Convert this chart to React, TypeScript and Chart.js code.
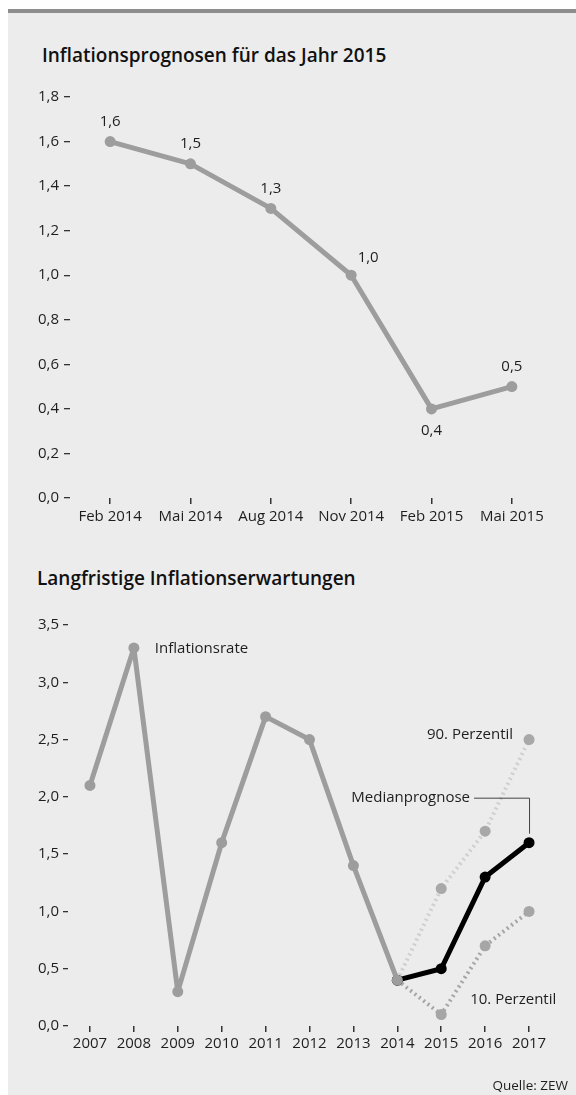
import React, { useEffect, useRef } from "react";
import { Chart, registerables } from "chart.js";

Chart.register(...registerables);

// ---------- data ----------
const forecastDates = ["Feb 2014", "Mai 2014", "Aug 2014", "Nov 2014", "Feb 2015", "Mai 2015"];
const forecastValues = [1.6, 1.5, 1.3, 1.0, 0.4, 0.5];
const forecastLabelPlace = ["above", "above", "above", "aboveRight", "below", "above"];

const years = ["2007", "2008", "2009", "2010", "2011", "2012", "2013", "2014", "2015", "2016", "2017"];
const inflationRate = [2.1, 3.3, 0.3, 1.6, 2.7, 2.5, 1.4, 0.4, null, null, null];
const medianForecast = [null, null, null, null, null, null, null, 0.4, 0.5, 1.3, 1.6];
const percentile90 = [null, null, null, null, null, null, null, 0.4, 1.2, 1.7, 2.5];
const percentile10 = [null, null, null, null, null, null, null, 0.4, 0.1, 0.7, 1.0];

const title1 = "Inflationsprognosen für das Jahr 2015";
const title2 = "Langfristige Inflationserwartungen";
const source = "Quelle: ZEW";

// ---------- styles ----------
const FONT = '"Open Sans", "Noto Sans", sans-serif';
const GRAY = "#9d9d9d";
const TEXT = "#1e1e1e";
const TICK_SIZE = 15;
const fmt = (v: number) => v.toFixed(1).replace(".", ",");

const topLabelPlugin = {
  id: "topLabels",
  afterDatasetsDraw(chart: any) {
    const meta = chart.getDatasetMeta(0);
    const ctx = chart.ctx;
    ctx.save();
    ctx.font = `${TICK_SIZE}px ${FONT}`;
    ctx.fillStyle = TEXT;
    ctx.textAlign = "center";
    ctx.textBaseline = "middle";
    meta.data.forEach((pt: any, i: number) => {
      const place = forecastLabelPlace[i];
      let dx = 0;
      let dy = -20;
      if (place === "below") dy = 22;
      if (place === "aboveRight") {
        dx = 17;
        dy = -17;
      }
      ctx.fillText(fmt(forecastValues[i]), pt.x + dx, pt.y + dy);
    });
    ctx.restore();
  },
};

const bottomLabelPlugin = {
  id: "bottomLabels",
  afterDatasetsDraw(chart: any) {
    const ctx = chart.ctx;
    const inf = chart.getDatasetMeta(0).data;
    const med = chart.getDatasetMeta(1).data;
    const p90 = chart.getDatasetMeta(2).data;
    const xs = chart.scales.x;
    const ys = chart.scales.y;
    ctx.save();
    ctx.font = `${TICK_SIZE}px ${FONT}`;
    ctx.fillStyle = TEXT;
    ctx.textBaseline = "middle";
    ctx.textAlign = "left";
    ctx.fillText("Inflationsrate", inf[1].x + 21, inf[1].y + 1);
    const last90 = p90[p90.length - 1];
    ctx.textAlign = "right";
    ctx.fillText("90. Perzentil", last90.x - 16, last90.y - 5);
    const lastMed = med[med.length - 1];
    const ly = lastMed.y - 45;
    ctx.fillText("Medianprognose", lastMed.x - 59, ly);
    ctx.strokeStyle = "#444";
    ctx.lineWidth = 1;
    ctx.beginPath();
    ctx.moveTo(lastMed.x - 55, ly + 0.5);
    ctx.lineTo(lastMed.x + 0.5, ly + 0.5);
    ctx.lineTo(lastMed.x + 0.5, lastMed.y - 9);
    ctx.stroke();
    ctx.textAlign = "left";
    ctx.fillText("10. Perzentil", xs.getPixelForValue(9) - 15, ys.getPixelForValue(0.23));
    ctx.restore();
  },
};

function tickFmt(v: any) {
  return fmt(Number(v));
}

function TopChart() {
  const ref = useRef<HTMLCanvasElement>(null);
  useEffect(() => {
    const chart = new Chart(ref.current as HTMLCanvasElement, {
      type: "line",
      data: {
        labels: forecastDates,
        datasets: [
          {
            data: forecastValues,
            borderColor: GRAY,
            backgroundColor: GRAY,
            borderWidth: 5,
            borderJoinStyle: "round",
            pointRadius: 5.5,
            pointBorderWidth: 0,
            pointBackgroundColor: GRAY,
            tension: 0,
          },
        ],
      },
      options: {
        animation: false,
        responsive: false,
        maintainAspectRatio: false,
        layout: { padding: { left: 0, right: 24, top: 27, bottom: 0 } },
        plugins: { legend: { display: false }, tooltip: { enabled: false } },
        scales: {
          x: {
            offset: true,
            border: { display: false },
            grid: { display: true, drawOnChartArea: false, drawTicks: true, tickLength: 6, tickColor: "#333", lineWidth: 1.5, offset: false },
            ticks: { font: { family: FONT, size: TICK_SIZE }, color: TEXT, padding: 4, maxRotation: 0, autoSkip: false },
            afterFit: (s: any) => {
              s.height = 52;
            },
          },
          y: {
            min: 0,
            max: 1.8,
            border: { display: false },
            grid: { display: true, drawOnChartArea: false, drawTicks: true, tickLength: 6, tickColor: "#333", lineWidth: 1.3 },
            ticks: { stepSize: 0.2, font: { family: FONT, size: TICK_SIZE }, color: TEXT, padding: 5, callback: tickFmt },
            afterFit: (s: any) => {
              s.width = 62;
            },
          },
        },
      },
      plugins: [topLabelPlugin],
    });
    return () => chart.destroy();
  }, []);
  return <canvas ref={ref} width={568} height={480} style={{ position: "absolute", left: 0, top: 62, width: 568, height: 480 }} />;
}

function BottomChart() {
  const ref = useRef<HTMLCanvasElement>(null);
  useEffect(() => {
    const chart = new Chart(ref.current as HTMLCanvasElement, {
      type: "line",
      data: {
        labels: years,
        datasets: [
          {
            data: inflationRate,
            borderColor: GRAY,
            borderWidth: 5,
            borderJoinStyle: "round",
            pointRadius: 5.5,
            pointBorderWidth: 0,
            pointBackgroundColor: GRAY,
            spanGaps: false,
          },
          {
            data: medianForecast,
            borderColor: "#000",
            borderWidth: 5,
            borderJoinStyle: "round",
            pointRadius: 5.5,
            pointBorderWidth: 0,
            pointBackgroundColor: "#000",
          },
          {
            data: percentile90,
            borderColor: "#cfcfcf",
            borderWidth: 4,
            borderDash: [2, 3.5],
            pointRadius: 5.5,
            pointBorderWidth: 0,
            pointBackgroundColor: "#a8a8a8",
          },
          {
            data: percentile10,
            borderColor: "#a6a6a6",
            borderWidth: 4,
            borderDash: [2, 3.5],
            pointRadius: 5.5,
            pointBorderWidth: 0,
            pointBackgroundColor: "#a6a6a6",
          },
        ],
      },
      options: {
        animation: false,
        responsive: false,
        maintainAspectRatio: false,
        layout: { padding: { left: 0, right: 25, top: 25, bottom: 0 } },
        plugins: { legend: { display: false }, tooltip: { enabled: false } },
        scales: {
          x: {
            offset: true,
            border: { display: false },
            grid: { display: true, drawOnChartArea: false, drawTicks: true, tickLength: 6, tickColor: "#333", lineWidth: 1.5, offset: false },
            ticks: { font: { family: FONT, size: TICK_SIZE }, color: TEXT, padding: 3, maxRotation: 0, autoSkip: false },
            afterFit: (s: any) => {
              s.height = 54;
            },
          },
          y: {
            min: 0,
            max: 3.5,
            border: { display: false },
            grid: { display: true, drawOnChartArea: false, drawTicks: true, tickLength: 5, tickColor: "#333", lineWidth: 1.3 },
            ticks: { stepSize: 0.5, font: { family: FONT, size: TICK_SIZE }, color: TEXT, padding: 4, callback: tickFmt },
            afterFit: (s: any) => {
              s.width = 60;
            },
          },
        },
      },
      plugins: [bottomLabelPlugin],
    });
    return () => chart.destroy();
  }, []);
  return <canvas ref={ref} width={568} height={480} style={{ position: "absolute", left: 0, top: 592, width: 568, height: 480 }} />;
}

export default function App() {
  return (
    <div style={{ position: "fixed", left: 8, top: 8, width: 568, height: 1087, fontFamily: FONT, overflow: "hidden" }}>
      <div style={{ position: "absolute", left: 0, top: 1, width: 568, height: 4, background: "#8e8e8e" }} />
      <div style={{ position: "absolute", left: 0, top: 5, width: 568, height: 1082, background: "#ececec" }} />
      <div style={{ position: "absolute", left: 34, top: 35, fontSize: 19, fontWeight: 600, color: "#111", lineHeight: "24px", whiteSpace: "nowrap" }}>{title1}</div>
      <div style={{ position: "absolute", left: 29, top: 558, fontSize: 19, fontWeight: 600, color: "#111", lineHeight: "24px", whiteSpace: "nowrap" }}>{title2}</div>
      <TopChart />
      <BottomChart />
      <div style={{ position: "absolute", right: 8, top: 1068, fontSize: 13.5, color: TEXT, lineHeight: "18px", whiteSpace: "nowrap" }}>{source}</div>
    </div>
  );
}
